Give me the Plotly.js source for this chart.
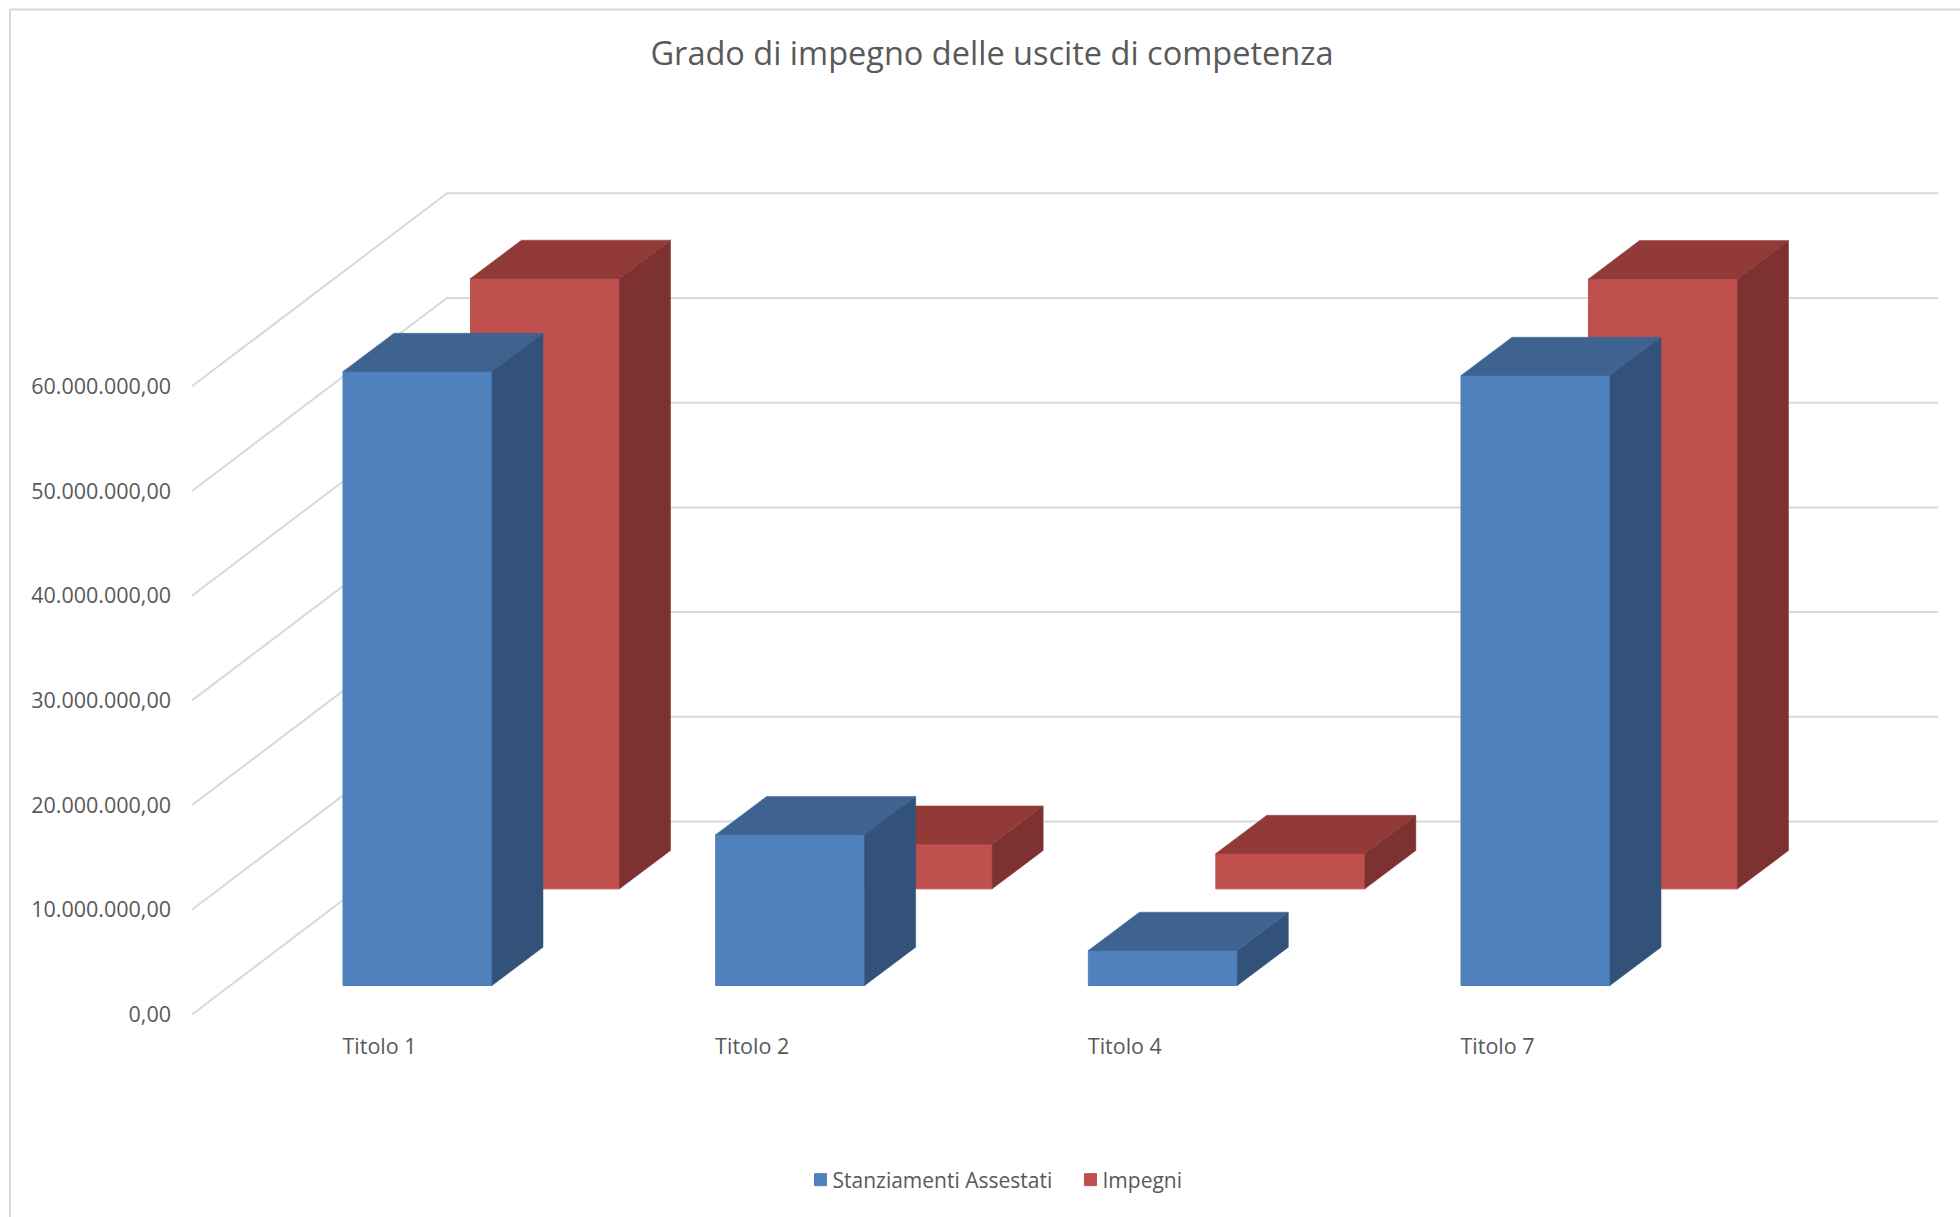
<!DOCTYPE html>
<html>
<head>
<meta charset="utf-8">
<script src="https://cdn.plot.ly/plotly-3.0.1.min.js"></script>
<style>html,body{margin:0;padding:0;background:#fff}</style>
</head>
<body>
<div id="chart" style="width:1960px;height:1217px"></div>
<script>
const categories = ["Titolo 1", "Titolo 2", "Titolo 4", "Titolo 7"];
const stanziamenti = [58640000, 14400000, 3340000, 58260000];
const impegni = [58300000, 4260000, 3370000, 58260000];
const tickValues = [0, 10000000, 20000000, 30000000, 40000000, 50000000, 60000000];

const W = 1960, H = 1217, L = 172, R = 1940, T = 100, B = 1031;
const unit = 372.67, zeroX = 417.5, zeroY = 1014.5, perPx = 10000000 / 104.7;
const dataX = px => (px - zeroX) / unit;
const dataY = py => (zeroY - py) * perPx;
const barW = 149 / unit, depthX = 51 / unit, depthY = 38.3 * perPx;
const wallX0 = dataX(192), wallX1 = dataX(447), wallX2 = dataX(1938), wallDY = 193 * perPx;
const FONT = '"Open Sans", sans-serif', TXT = '#595959', TICK = 21.5;

function faces(values, xOff, floor) {
  const side = {x: [], y: []}, top = {x: [], y: []};
  values.forEach((v, i) => {
    const xr = i + xOff + barW / 2, xl = xr - barW, yb = floor, yt = floor + v;
    side.x.push(xr, xr + depthX, xr + depthX, xr, xr, null);
    side.y.push(yb, yb + depthY, yt + depthY, yt, yb, null);
    top.x.push(xl, xl + depthX, xr + depthX, xr, xl, null);
    top.y.push(yt, yt + depthY, yt + depthY, yt, yt, null);
  });
  return {side, top};
}
function series(name, values, xOff, floor, cFront, cSide, cTop, xa, ya, rank) {
  const f = faces(values, xOff, floor);
  const poly = (p, c) => ({type: 'scatter', mode: 'lines', x: p.x, y: p.y, fill: 'toself', fillcolor: c,
    line: {color: c, width: 0.5}, hoverinfo: 'skip', showlegend: false, xaxis: xa, yaxis: ya});
  return [
    {type: 'bar', name, x: values.map((_, i) => i + xOff), y: values, base: values.map(() => floor),
     width: values.map(() => barW), marker: {color: cFront, line: {color: cFront, width: 1}}, textposition: 'none',
     xaxis: xa, yaxis: ya, legendrank: rank, customdata: categories, hovertemplate: '%{customdata}: %{y:,.2f}<extra>' + name + '</extra>'},
    poly(f.side, cSide), poly(f.top, cTop)
  ];
}

const gx = [], gy = [];
tickValues.forEach(v => {
  gx.push(wallX0, wallX1, wallX2, null);
  gy.push(v, v + wallDY, v + wallDY, null);
});
const grid = {type: 'scatter', mode: 'lines', x: gx, y: gy, line: {color: '#D9D9D9', width: 2},
  hoverinfo: 'skip', showlegend: false, xaxis: 'x', yaxis: 'y'};

const data = [grid]
  .concat(series('Impegni', impegni, 127.5 / unit, 12000000, '#C0504D', '#7D3130', '#923A38', 'x2', 'y2', 2))
  .concat(series('Stanziamenti Assestati', stanziamenti, 0, 2770000, '#4F81BD', '#325279', '#3E6390', 'x3', 'y3', 1));

const xr = [dataX(L), dataX(R)], yr = [dataY(B), dataY(T)];
const px = p => (p - L) / (R - L), py = p => (B - p) / (B - T);
const frame = {color: '#D9D9D9', width: 2};

const layout = {
  width: W, height: H, autosize: false,
  paper_bgcolor: '#fff', plot_bgcolor: 'rgba(0,0,0,0)',
  margin: {l: L, r: W - R, t: T, b: H - B, pad: 0},
  separators: ',.', barmode: 'overlay', hovermode: 'closest',
  font: {family: FONT, color: TXT, size: TICK},
  title: {text: 'Grado di impegno delle uscite di competenza', x: 992 / W, xref: 'container', xanchor: 'center',
    y: 1 - 54 / H, yref: 'container', yanchor: 'middle', font: {family: FONT, size: 32.5, color: TXT}},
  xaxis: {range: xr, showgrid: false, zeroline: false, showline: false, ticks: '', tickmode: 'array',
    tickvals: categories.map((_, i) => i + dataX(379.5)), ticktext: categories, tickfont: {family: FONT, size: TICK, color: TXT}},
  yaxis: {range: yr, showgrid: false, zeroline: false, showline: false, ticks: '', tickmode: 'array',
    tickvals: tickValues, tickformat: ',.2f', tickfont: {family: FONT, size: TICK, color: TXT}},
  xaxis2: {range: xr, overlaying: 'x', visible: false, anchor: 'y2'},
  yaxis2: {range: yr, overlaying: 'y', visible: false, anchor: 'x2'},
  xaxis3: {range: xr, overlaying: 'x', visible: false, anchor: 'y3'},
  yaxis3: {range: yr, overlaying: 'y', visible: false, anchor: 'x3'},
  legend: {orientation: 'h', x: px(792.5), xanchor: 'left', y: py(1180), yanchor: 'middle',
    entrywidth: 225, entrywidthmode: 'pixels',
    font: {family: FONT, size: 21, color: TXT}, bgcolor: 'rgba(0,0,0,0)', traceorder: 'normal'},
  shapes: [
    {type: 'line', xref: 'paper', yref: 'paper', x0: px(10), x1: px(1960), y0: py(9.5), y1: py(9.5), line: frame},
    {type: 'line', xref: 'paper', yref: 'paper', x0: px(10), x1: px(10), y0: py(9.5), y1: py(1217), line: frame}
  ]
};
Plotly.newPlot('chart', data, layout, {displayModeBar: false, responsive: false}).then(gd => {
  gd.querySelectorAll('.legend .legendpoints').forEach(g => g.setAttribute('transform', 'translate(8,0)'));
});
</script>
</body>
</html>
